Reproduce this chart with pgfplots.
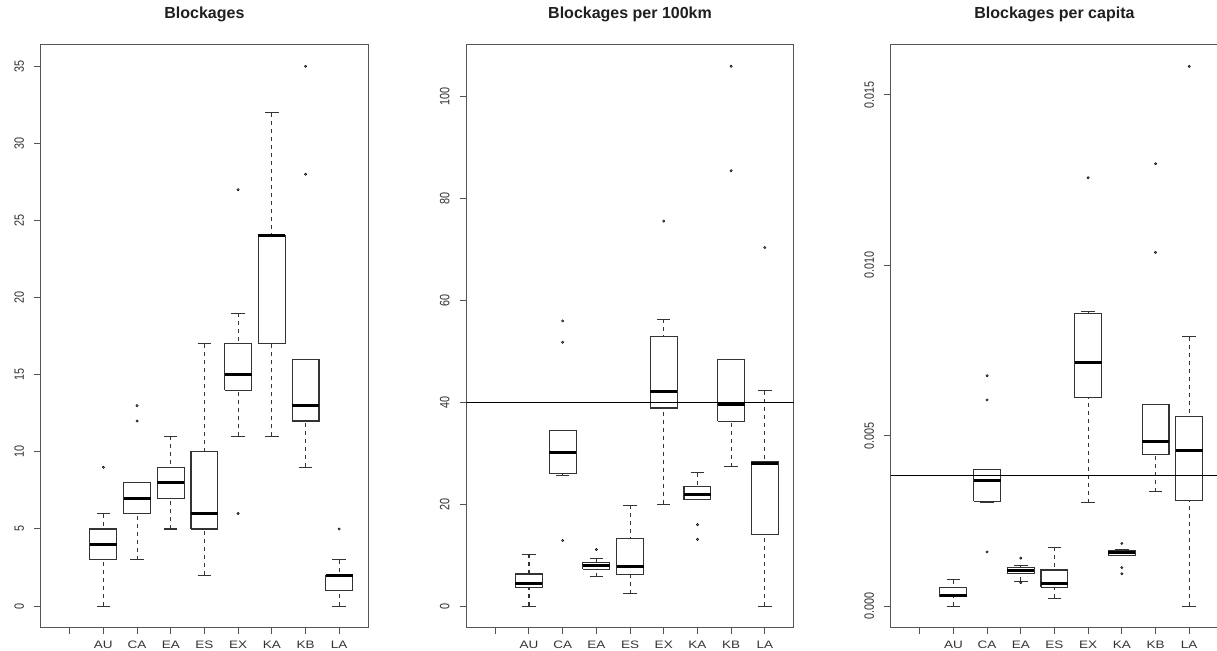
\documentclass[border=0pt]{standalone}
\usepackage{fontspec}
\setmainfont{Liberation Sans}
\usepackage{graphicx}
\usepackage{pgfplots}
\pgfplotsset{compat=1.18}
\newcommand\sx[1]{\scalebox{1.25}[1]{#1}}
\definecolor{framec}{gray}{0.33}
\definecolor{boxc}{gray}{0.2}
\definecolor{txt}{gray}{0.2}
\pgfplotsset{
  rbox/.style={
    scale only axis, width=327.5pt, height=583pt, anchor=south west,
    xmin=0.14, xmax=9.86,
    axis line style={framec, line width=1.1pt},
    tick style={framec, line width=1pt},
    tick align=outside, major tick length=6.5pt,
    xtick pos=left, ytick pos=left,
    xtick={1,...,9},
    xticklabels={,\sx{AU},\sx{CA},\sx{EA},\sx{ES},\sx{EX},\sx{KA},\sx{KB},\sx{LA}},
    tick label style={font=\fontsize{10.8}{12}\selectfont, text=txt},
    xticklabel style={anchor=north, inner sep=0pt, yshift=-7pt},
    yticklabel style={xshift=-10pt, rotate=90, anchor=south, inner sep=0pt},
    scaled y ticks=false,
    /pgf/number format/assume math mode=true,
    title style={at={(0.5,1)}, anchor=base, yshift=19.7pt,
      font=\bfseries\fontsize{16}{18}\selectfont, text=black!88, inner sep=0pt},
    clip=true,
  },
  bx/.style={boxc, line width=1.1pt, solid, mark=none, line join=miter},
  wh/.style={boxc, line width=1.1pt, dash pattern=on 4pt off 4pt, mark=none},
  cap/.style={boxc, line width=1.1pt, solid, mark=none},
  med/.style={black, line width=3pt, solid, mark=none, line cap=butt},
  outl/.style={only marks, mark=*, mark size=1.2pt, mark options={fill=black!55, draw=none}},
}
% position, lower whisker, lower quartile, median, upper quartile, upper whisker
\newcommand\bp[6]{%
  \pgfmathsetmacro\xl{#1-0.4}\pgfmathsetmacro\xr{#1+0.4}%
  \pgfmathsetmacro\cl{#1-0.2}\pgfmathsetmacro\cr{#1+0.2}%
  \edef\tmp{%
  \noexpand\addplot[wh] coordinates {(#1,#2) (#1,#3)};
  \noexpand\addplot[wh] coordinates {(#1,#6) (#1,#5)};
  \noexpand\addplot[cap] coordinates {(\cl,#2) (\cr,#2)};
  \noexpand\addplot[cap] coordinates {(\cl,#6) (\cr,#6)};
  \noexpand\addplot[bx] coordinates {(\xl,#3) (\xr,#3) (\xr,#5) (\xl,#5) (\xl,#3)};
  \noexpand\addplot[med] coordinates {(\xl,#4) (\xr,#4)};
  }\tmp}
\begin{document}
\begin{tikzpicture}
% ---------------- Panel 1 ----------------
\begin{axis}[rbox, at={(40.7pt,22.3pt)},
  ymin=-1.4, ymax=36.4, ytick={0,5,...,35},
  yticklabel={\scalebox{1}[1.25]{\pgfmathprintnumber{\tick}}},
  title={Blockages}]
\bp{2}{0}{3}{4}{5}{6}
\bp{3}{3}{6}{7}{8}{8}
\bp{4}{5}{7}{8}{9}{11}
\bp{5}{2}{5}{6}{10}{17}
\bp{6}{11}{14}{15}{17}{19}
\bp{7}{11}{17}{24}{24}{32}
\bp{8}{9}{12}{13}{16}{16}
\bp{9}{0}{1}{2}{2}{3}
\addplot[outl] coordinates {(2,9) (3,12) (3,13) (6,6) (6,27) (8,28) (8,35) (9,5)};
\end{axis}
% ---------------- Panel 2 ----------------
\begin{axis}[rbox, at={(466.3pt,22.3pt)},
  ymin=-4.24, ymax=110.24, ytick={0,20,...,100},
  yticklabel={\scalebox{1}[1.25]{\pgfmathprintnumber{\tick}}},
  title={Blockages per 100km}]
\bp{2}{0}{3.6}{4.4}{6.3}{10.2}
\bp{3}{25.7}{26.0}{30.2}{34.5}{34.5}
\bp{4}{5.8}{7.2}{7.9}{8.6}{9.4}
\bp{5}{2.4}{6.2}{7.7}{13.3}{19.8}
\bp{6}{20.0}{38.9}{42.1}{52.9}{56.3}
\bp{7}{20.85}{20.85}{21.9}{23.5}{26.2}
\bp{8}{27.4}{36.3}{39.5}{48.4}{48.4}
\bp{9}{0}{14.1}{28.1}{28.3}{42.3}
\addplot[outl] coordinates {(3,12.9) (3,51.8) (3,56.0) (4,11.1) (6,75.6) (7,16.0) (7,13.1) (8,85.5) (8,106.0) (9,70.4)};
\addplot[black, line width=1pt] coordinates {(0.14,40) (9.86,40)};
\end{axis}
% ---------------- Panel 3 ----------------
\begin{axis}[rbox, at={(890.7pt,22.3pt)},
  ymin=-0.000634, ymax=0.016474, ytick={0,0.005,0.01,0.015},
  yticklabel={\scalebox{1}[1.25]{\pgfmathprintnumber[fixed,fixed zerofill,precision=3]{\tick}}},
  title={Blockages per capita}]
\bp{2}{0}{0.00027}{0.00032}{0.00055}{0.00077}
\bp{3}{0.00305}{0.00308}{0.00369}{0.00401}{0.00401}
\bp{4}{0.00073}{0.00095}{0.00103}{0.00113}{0.00119}
\bp{5}{0.00023}{0.00055}{0.00066}{0.00106}{0.00172}
\bp{6}{0.00303}{0.00611}{0.00715}{0.00858}{0.00864}
\bp{7}{0.00148}{0.00148}{0.00158}{0.00163}{0.00165}
\bp{8}{0.00336}{0.00445}{0.00483}{0.00592}{0.00592}
\bp{9}{0}{0.00309}{0.00457}{0.00557}{0.00791}
\addplot[outl] coordinates {(3,0.00159) (3,0.00605) (3,0.00676) (4,0.00141) (4,0.00069) (6,0.01257) (7,0.00184) (7,0.00113) (7,0.00095) (8,0.01038) (8,0.01298) (9,0.01584)};
\addplot[black, line width=1pt] coordinates {(0.14,0.00383) (9.86,0.00383)};
\end{axis}
\pgfresetboundingbox
\path[use as bounding box] (0,0) rectangle (1217pt,650pt);
\end{tikzpicture}
\end{document}
